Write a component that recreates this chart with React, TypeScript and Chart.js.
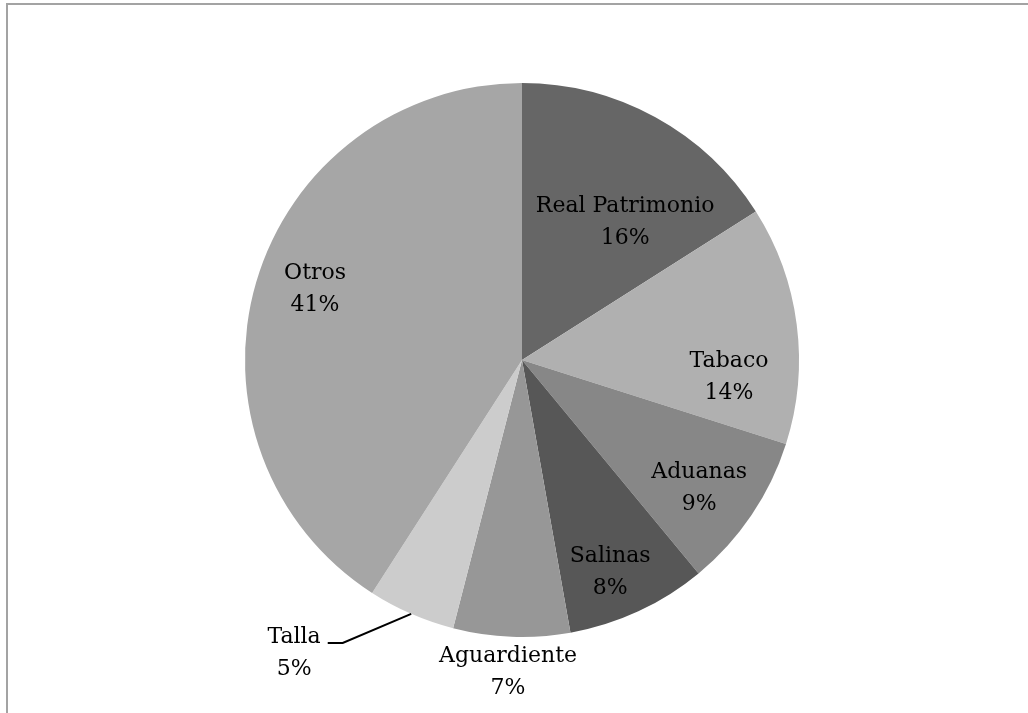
import React, { useEffect, useRef } from "react";
import { Chart, registerables } from "chart.js";

Chart.register(...registerables);

const categories = ["Real Patrimonio", "Tabaco", "Aduanas", "Salinas", "Aguardiente", "Talla", "Otros"];
const shares = [16.0, 13.9, 9.1, 8.2, 6.8, 5.1, 40.9];
const sliceColors = ["#666666", "#b0b0b0", "#878787", "#575757", "#979797", "#cccccc", "#a6a6a6"];

// label placement: distance as fraction of radius, angular shift (deg) from slice mid-angle
const labelPlacement = [
  { dist: 0.62, shift: 8.1, leader: false },
  { dist: 0.75, shift: 12.1, leader: false },
  { dist: 0.79, shift: 1.9, leader: false },
  { dist: 0.83, shift: 2.3, leader: false },
  { dist: 1.13, shift: 0.4, leader: false },
  { dist: 1.34, shift: 14.3, leader: true },
  { dist: 0.79, shift: 2.6, leader: false },
];

const FONT = "22px 'DejaVu Serif'";
const LINE_GAP = 32;

const labelPlugin = {
  id: "pieLabels",
  afterDatasetsDraw(chart: any) {
    const ctx = chart.ctx;
    const meta = chart.getDatasetMeta(0);
    const data = chart.data.datasets[0].data as number[];
    const total = data.reduce((a, b) => a + b, 0);
    ctx.save();
    ctx.font = FONT;
    ctx.fillStyle = "#000000";
    ctx.textAlign = "center";
    ctx.textBaseline = "middle";
    meta.data.forEach((el: any, i: number) => {
      const p = el.getProps(["x", "y", "startAngle", "endAngle", "outerRadius"], true);
      const mid = (p.startAngle + p.endAngle) / 2;
      const pl = labelPlacement[i];
      const a = mid + (pl.shift * Math.PI) / 180;
      const cx = p.x + Math.cos(a) * pl.dist * p.outerRadius;
      const cy = p.y + Math.sin(a) * pl.dist * p.outerRadius;
      const name = chart.data.labels[i] as string;
      const pct = Math.round((data[i] / total) * 100) + "%";
      ctx.fillText(name, cx, cy - LINE_GAP / 2);
      ctx.fillText(pct, cx, cy + LINE_GAP / 2);
      if (pl.leader) {
        const w = ctx.measureText(name).width;
        const sx = cx + w / 2 + 7;
        const sy = cy - LINE_GAP / 2 + 6;
        const ex = p.x + Math.cos(mid) * p.outerRadius;
        const ey = p.y + Math.sin(mid) * p.outerRadius;
        ctx.beginPath();
        ctx.strokeStyle = "#000000";
        ctx.lineWidth = 2;
        ctx.moveTo(sx, sy);
        ctx.lineTo(sx + 15, sy);
        ctx.lineTo(ex, ey);
        ctx.stroke();
      }
    });
    ctx.restore();
  },
};

export default function App() {
  const canvasRef = useRef<HTMLCanvasElement | null>(null);

  useEffect(() => {
    if (!canvasRef.current) return;
    const chart = new Chart(canvasRef.current, {
      type: "pie",
      data: {
        labels: categories,
        datasets: [
          {
            data: shares,
            backgroundColor: sliceColors,
            borderWidth: 0,
          },
        ],
      },
      options: {
        responsive: false,
        animation: false,
        layout: { padding: { left: 245, right: 229, top: 83, bottom: 76 } },
        plugins: {
          legend: { display: false },
          tooltip: { enabled: false },
        },
      },
      plugins: [labelPlugin],
    });
    return () => chart.destroy();
  }, []);

  return (
    <div
      style={{
        position: "fixed",
        left: 0,
        top: 0,
        width: 1028,
        height: 713,
        overflow: "hidden",
        background: "#ffffff",
      }}
    >
      <div
        style={{
          position: "absolute",
          left: 6,
          top: 3,
          width: 1200,
          height: 900,
          borderLeft: "2px solid #a3a3a3",
          borderTop: "2px solid #a3a3a3",
          boxSizing: "border-box",
        }}
      />
      <canvas
        ref={canvasRef}
        width={1028}
        height={713}
        style={{ position: "absolute", left: 0, top: 0, width: 1028, height: 713 }}
      />
    </div>
  );
}
